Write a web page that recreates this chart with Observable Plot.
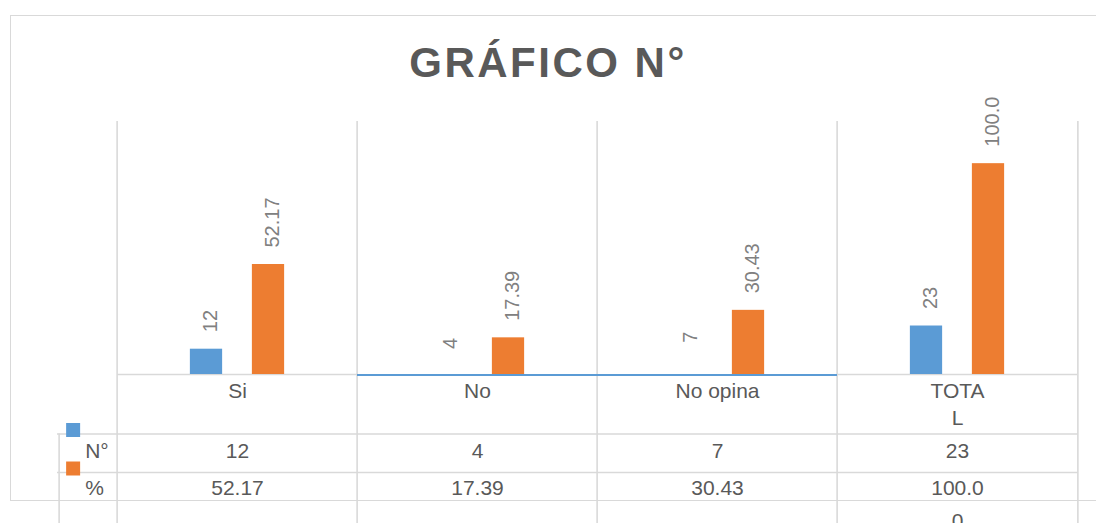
<!DOCTYPE html>
<html>
<head>
<meta charset="utf-8">
<script src="https://cdn.jsdelivr.net/npm/d3@7"></script>
<script src="https://cdn.jsdelivr.net/npm/@observablehq/plot@0.6"></script>
<style>
html,body{margin:0;padding:0;background:#fff;}
#wrap{position:relative;width:1096px;height:523px;overflow:hidden;font-family:"Liberation Sans",Arial,sans-serif;}
#border{position:absolute;left:10px;top:15px;width:1200px;height:486px;border:1.5px solid #d9d9d9;box-sizing:border-box;pointer-events:none;}
#title{height:100px;position:relative;}
#title span{position:absolute;left:0;width:1096px;top:42px;text-align:center;font-weight:bold;font-size:42px;line-height:42px;letter-spacing:2.5px;color:#595959;white-space:nowrap;}
#chart svg{display:block;}
</style>
</head>
<body>
<div id="wrap">
  <div id="title"><span>GRÁFICO N°</span></div>
  <div id="chart"></div>
  <div id="border"></div>
</div>
<script>
// ---- data ----
const categories = ["Si", "No", "No opina", "TOTAL"];
const categoryLabels = ["Si", "No", "No opina", "TOTA\nL"];
const seriesNames = ["N°", "%"];
const countValues = [12, 4, 7, 23];
const pctValues = [52.17, 17.39, 30.43, 100.0];
const hiddenCountBars = ["No", "No opina"]; // N° bars not drawn in the reference

// ---- derived table ----
const rows = categories.map((c, i) => ({
  category: c, label: categoryLabels[i], n: countValues[i], pct: pctValues[i]
}));
const wrap5 = s => s.length > 5 ? s.slice(0, 5) + "\n" + s.slice(5) : s;
const barPctLabel = v => v.toFixed(2).slice(0, 5);
const tablePctLabel = v => wrap5(v.toFixed(2));

// ---- layout / style ----
const W = 1096, H = 423, mL = 115, mR = 18, mT = 21, mB = 149;
const bw = (W - mL - mR) / categories.length;
const grid = "#d9d9d9", ink = "#595959", lab = "#808080";
const blue = "#5B9BD5", orange = "#ED7D31";
const barW = 33, half = 31;
const inA = bw / 2 - half - barW / 2;
const inB = bw - inA - barW;
const plotH = H - mT - mB;
const font = "'Liberation Sans', Arial, sans-serif";
const firstCenterX = mL + bw / 2;
const fs = 21;
const lhHead = 1.29, lhPct = 1.57;
const topShift = lh => 0.71 * (lh - 1) * fs; // Plot pushes first line down with lineHeight

const chart = Plot.plot({
  width: W, height: H,
  marginTop: mT, marginBottom: mB, marginLeft: mL, marginRight: mR,
  x: {type: "band", domain: categories, padding: 0, axis: null},
  y: {domain: [0, 120], axis: null},
  style: {fontFamily: font, background: "transparent", overflow: "visible"},
  marks: [
    // vertical grid / table column lines
    Plot.ruleX(rows, {x: "category", dx: -bw / 2, stroke: grid, strokeWidth: 1.6, insetBottom: -mB}),
    Plot.ruleX(rows.slice(-1), {x: "category", dx: bw / 2, stroke: grid, strokeWidth: 1.6, insetBottom: -mB}),
    Plot.ruleX(rows.slice(0, 1), {x: "category", dx: -bw / 2 - 58, stroke: grid, strokeWidth: 1.6, insetTop: plotH + 59.5, insetBottom: -mB}),
    // table row lines
    Plot.ruleY([0], {dy: 59.5, insetLeft: -58, stroke: grid, strokeWidth: 1.6}),
    Plot.ruleY([0], {dy: 98, insetLeft: -58, stroke: grid, strokeWidth: 1.6}),
    // baseline
    Plot.tickY(rows.filter(d => !hiddenCountBars.includes(d.category)), {x: "category", y: d => 0, stroke: grid, strokeWidth: 1.6}),
    Plot.tickY(rows.filter(d => hiddenCountBars.includes(d.category)), {x: "category", y: d => 0, stroke: blue, strokeWidth: 2, dy: 0.5}),
    // bars
    Plot.barY(rows.filter(d => !hiddenCountBars.includes(d.category)), {x: "category", y: "n", fill: blue, insetLeft: inA, insetRight: inB}),
    Plot.barY(rows, {x: "category", y: "pct", fill: orange, insetLeft: inB, insetRight: inA}),
    // rotated data labels
    Plot.text(rows, {x: "category", y: "n", text: d => String(d.n), rotate: -90, textAnchor: "start", lineAnchor: "middle", dx: -half + 4, dy: -17, fontSize: 20, fill: lab}),
    Plot.text(rows, {x: "category", y: "pct", text: d => barPctLabel(d.pct), rotate: -90, textAnchor: "start", lineAnchor: "middle", dx: half + 4, dy: -17, fontSize: 20, fill: lab}),
    // category header row
    Plot.text(rows, {x: "category", y: d => 0, text: "label", lineAnchor: "top", dy: 9 - topShift(lhHead), fontSize: fs, lineHeight: lhHead, fill: ink}),
    // table values
    Plot.text(rows, {x: "category", y: d => 0, text: d => String(d.n), lineAnchor: "top", dy: 69, fontSize: fs, fill: ink}),
    Plot.text(rows, {x: "category", y: d => 0, text: d => tablePctLabel(d.pct), lineAnchor: "top", dy: 106 - topShift(lhPct), fontSize: fs, lineHeight: lhPct, fill: ink}),
    // legend keys + series names
    Plot.dot([seriesNames[0]], {x: d => categories[0], y: d => 0, dx: 71 - firstCenterX, dy: 55.5, symbol: "square", r: 7.9, fill: blue, stroke: null}),
    Plot.dot([seriesNames[1]], {x: d => categories[0], y: d => 0, dx: 71 - firstCenterX, dy: 94, symbol: "square", r: 7.9, fill: orange, stroke: null}),
    Plot.text([seriesNames[0]], {x: d => categories[0], y: d => 0, text: d => d, textAnchor: "start", lineAnchor: "top", dx: 83 - firstCenterX, dy: 69, fontSize: fs, fill: ink}),
    Plot.text([seriesNames[1]], {x: d => categories[0], y: d => 0, text: d => d, textAnchor: "start", lineAnchor: "top", dx: 83 - firstCenterX, dy: 106, fontSize: fs, fill: ink})
  ]
});
document.getElementById("chart").appendChild(chart);
</script>
</body>
</html>
